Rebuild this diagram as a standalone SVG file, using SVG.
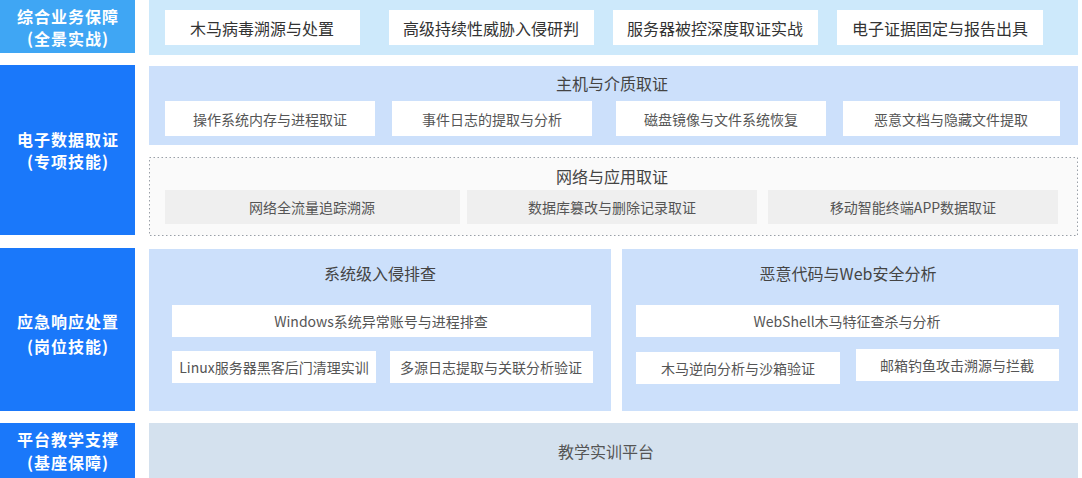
<svg xmlns="http://www.w3.org/2000/svg" width="1082" height="478" viewBox="0 0 1082 478">
<style>
text{font-family:"Noto Sans CJK SC","Noto Sans",sans-serif;text-anchor:middle;dominant-baseline:central}
.lab{fill:#ffffff;font-size:16px;font-weight:bold;letter-spacing:1px}
.l1{fill:#3fa6f4}
.l2{fill:#1a78fa}
.p1{fill:#cde9fb}
.p2{fill:#cce0fb}
.p4{fill:#d4e1ee}
.wb{fill:#ffffff}
.gb{fill:#efefef}
.t1{fill:#333333;font-size:16px}
.t2{fill:#555555;font-size:14px}
.tt{fill:#444444;font-size:16px}
.t4{fill:#555555;font-size:16px}
.dot{fill:#fafafa;stroke:#9aa0a8;stroke-width:1;stroke-dasharray:1.5 2.5}
</style>
<rect width="1082" height="478" fill="#ffffff"/>
<g id="row1">
<rect class="l1" x="0" y="0" width="135" height="53"/>
<text class="lab" x="68" y="16">综合业务保障</text>
<text class="lab" x="68" y="38">(全景实战)</text>
<rect class="p1" x="149" y="0" width="929" height="55"/>
<g id="n-trojan"><rect class="wb" x="165" y="10" width="195" height="35"/><text class="t1" x="262" y="28">木马病毒溯源与处置</text></g>
<g id="n-apt"><rect class="wb" x="389" y="10" width="205" height="35"/><text class="t1" x="491" y="28">高级持续性威胁入侵研判</text></g>
<g id="n-server"><rect class="wb" x="613" y="10" width="205" height="35"/><text class="t1" x="715" y="28">服务器被控深度取证实战</text></g>
<g id="n-evidence"><rect class="wb" x="837" y="10" width="206" height="35"/><text class="t1" x="940" y="28">电子证据固定与报告出具</text></g>
</g>
<g id="row2">
<rect class="l2" x="0" y="65" width="135" height="170"/>
<text class="lab" x="68" y="139">电子数据取证</text>
<text class="lab" x="68" y="161">(专项技能)</text>
<g id="host">
<rect class="p2" x="149" y="66" width="929" height="79"/>
<text class="tt" x="612" y="83">主机与介质取证</text>
<g id="n-mem"><rect class="wb" x="165" y="101" width="210" height="35"/><text class="t2" x="270" y="119">操作系统内存与进程取证</text></g>
<g id="n-log"><rect class="wb" x="392" y="101" width="200" height="35"/><text class="t2" x="492" y="119">事件日志的提取与分析</text></g>
<g id="n-disk"><rect class="wb" x="616" y="101" width="210" height="35"/><text class="t2" x="721" y="119">磁盘镜像与文件系统恢复</text></g>
<g id="n-doc"><rect class="wb" x="843" y="101" width="217" height="35"/><text class="t2" x="951" y="119">恶意文档与隐藏文件提取</text></g>
</g>
<g id="net">
<rect class="dot" x="149.5" y="157.5" width="928" height="78"/>
<text class="tt" x="612" y="176">网络与应用取证</text>
<g id="n-flow"><rect class="gb" x="165" y="190" width="295" height="34"/><text class="t2" x="312" y="207">网络全流量追踪溯源</text></g>
<g id="n-db"><rect class="gb" x="467" y="190" width="290" height="34"/><text class="t2" x="612" y="207">数据库篡改与删除记录取证</text></g>
<g id="n-app"><rect class="gb" x="768" y="190" width="290" height="34"/><text class="t2" x="913" y="207">移动智能终端APP数据取证</text></g>
</g>
</g>
<g id="row3">
<rect class="l2" x="0" y="248" width="135" height="163"/>
<text class="lab" x="68" y="321">应急响应处置</text>
<text class="lab" x="68" y="346">(岗位技能)</text>
<g id="sys">
<rect class="p2" x="149" y="249" width="462" height="162"/>
<text class="tt" x="380" y="273">系统级入侵排查</text>
<g id="n-win"><rect class="wb" x="172" y="305" width="419" height="32"/><text class="t2" x="381" y="321">Windows系统异常账号与进程排查</text></g>
<g id="n-linux"><rect class="wb" x="172" y="351" width="204" height="32"/><text class="t2" x="274" y="367">Linux服务器黑客后门清理实训</text></g>
<g id="n-multi"><rect class="wb" x="390" y="351" width="203" height="32"/><text class="t2" x="491" y="367">多源日志提取与关联分析验证</text></g>
</g>
<g id="mal">
<rect class="p2" x="622" y="249" width="456" height="162"/>
<text class="tt" x="848" y="273">恶意代码与Web安全分析</text>
<g id="n-webshell"><rect class="wb" x="636" y="305" width="423" height="32"/><text class="t2" x="847" y="321">WebShell木马特征查杀与分析</text></g>
<g id="n-reverse"><rect class="wb" x="636" y="352" width="204" height="32"/><text class="t2" x="738" y="368">木马逆向分析与沙箱验证</text></g>
<g id="n-phish"><rect class="wb" x="856" y="349" width="203" height="32"/><text class="t2" x="957" y="365">邮箱钓鱼攻击溯源与拦截</text></g>
</g>
</g>
<g id="row4">
<rect class="l2" x="0" y="423" width="135" height="55"/>
<text class="lab" x="68" y="439">平台教学支撑</text>
<text class="lab" x="68" y="462">(基座保障)</text>
<g id="n-platform"><rect class="p4" x="149" y="423" width="929" height="55"/><text class="t4" x="606" y="451">教学实训平台</text></g>
</g>
<g id="connectors"></g>
</svg>
